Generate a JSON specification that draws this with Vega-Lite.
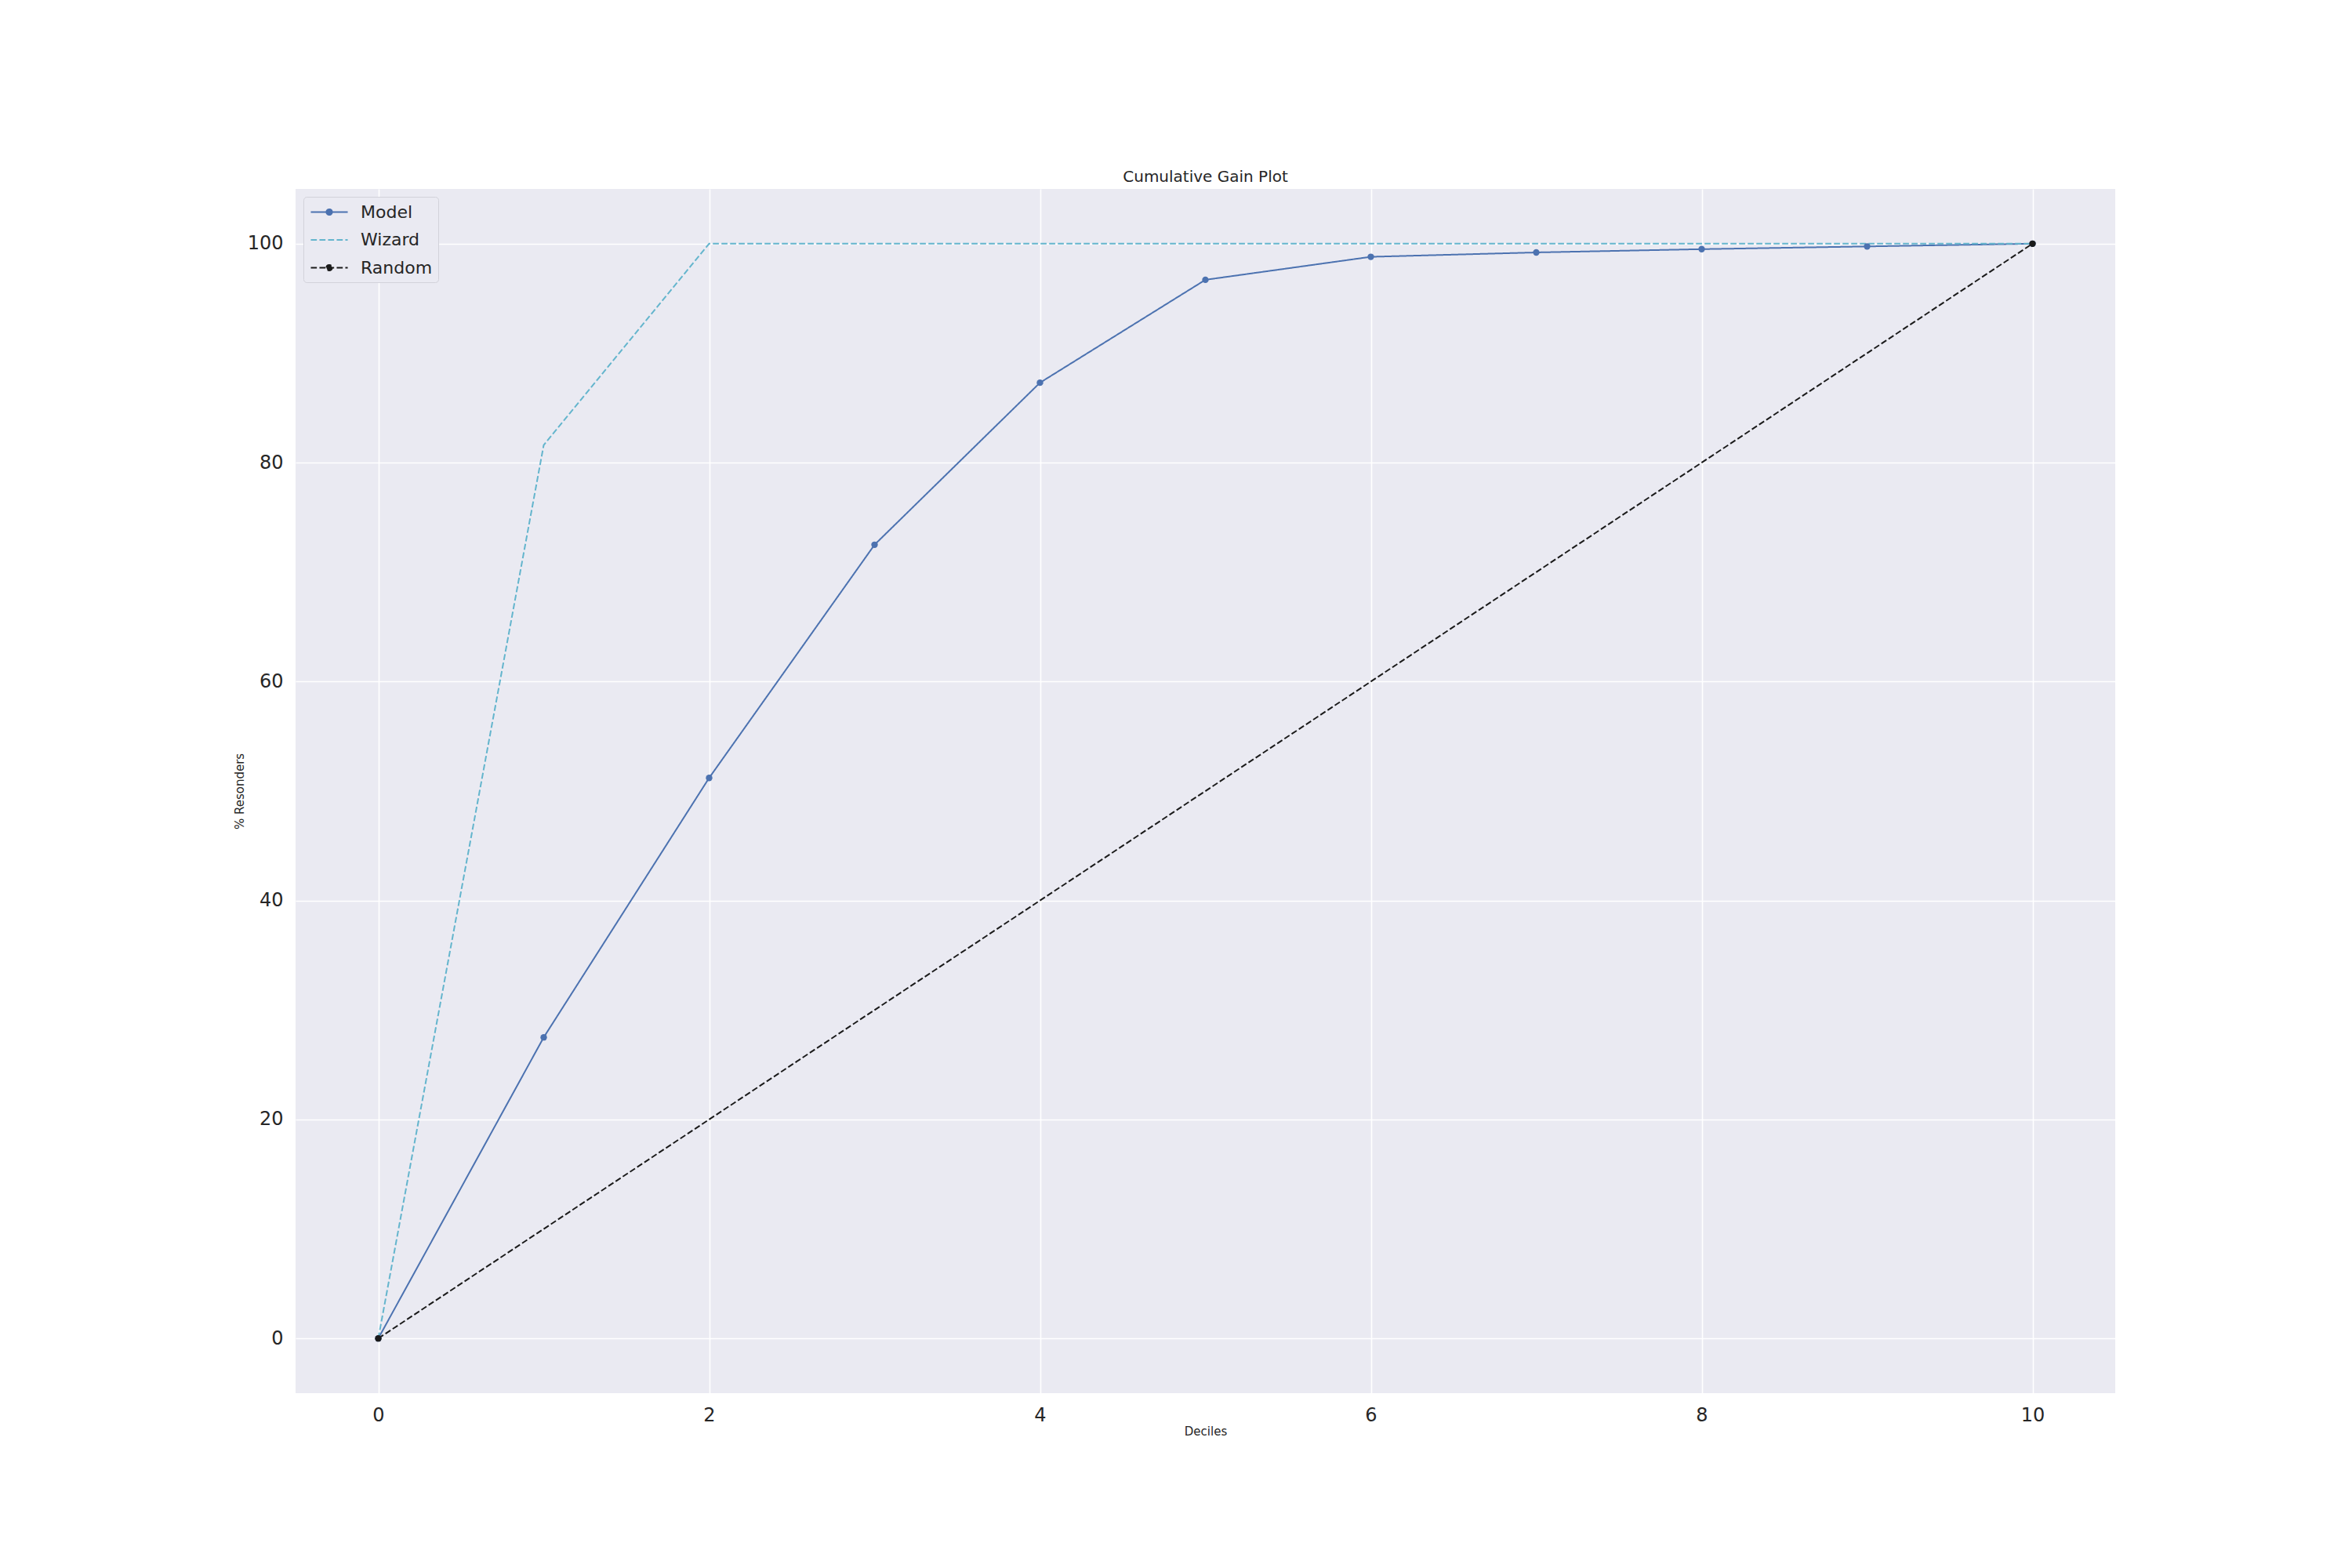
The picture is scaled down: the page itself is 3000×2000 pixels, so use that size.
{
  "$schema": "https://vega.github.io/schema/vega-lite/v6.json",
  "autosize": {"type": "none"},
  "width": 2321,
  "height": 1536,
  "padding": {"left": 377, "top": 241, "right": 302, "bottom": 223},
  "background": "white",
  "title": {
    "text": "Cumulative Gain Plot",
    "font": "DejaVu Sans",
    "fontSize": 20,
    "fontWeight": "normal",
    "color": "#262626",
    "anchor": "middle",
    "baseline": "alphabetic",
    "offset": -11
  },
  "config": {
    "view": {"fill": "#EAEAF2", "stroke": null},
    "axis": {
      "grid": true,
      "gridColor": "#FFFFFF",
      "gridWidth": 1.6,
      "domain": false,
      "ticks": false,
      "labelFont": "DejaVu Sans",
      "labelFontSize": 24,
      "labelColor": "#262626",
      "titleFont": "DejaVu Sans",
      "titleFontSize": 15,
      "titleFontWeight": "normal",
      "titleColor": "#262626"
    }
  },
  "data": {
    "values": [
      {"decile": 0, "pct": 0, "series": "Model"},
      {"decile": 1, "pct": 27.5, "series": "Model"},
      {"decile": 2, "pct": 51.2, "series": "Model"},
      {"decile": 3, "pct": 72.5, "series": "Model"},
      {"decile": 4, "pct": 87.3, "series": "Model"},
      {"decile": 5, "pct": 96.7, "series": "Model"},
      {"decile": 6, "pct": 98.8, "series": "Model"},
      {"decile": 7, "pct": 99.2, "series": "Model"},
      {"decile": 8, "pct": 99.5, "series": "Model"},
      {"decile": 9, "pct": 99.75, "series": "Model"},
      {"decile": 10, "pct": 100, "series": "Model"},
      {"decile": 0, "pct": 0, "series": "Wizard"},
      {"decile": 1, "pct": 81.6, "series": "Wizard"},
      {"decile": 2, "pct": 100, "series": "Wizard"},
      {"decile": 3, "pct": 100, "series": "Wizard"},
      {"decile": 4, "pct": 100, "series": "Wizard"},
      {"decile": 5, "pct": 100, "series": "Wizard"},
      {"decile": 6, "pct": 100, "series": "Wizard"},
      {"decile": 7, "pct": 100, "series": "Wizard"},
      {"decile": 8, "pct": 100, "series": "Wizard"},
      {"decile": 9, "pct": 100, "series": "Wizard"},
      {"decile": 10, "pct": 100, "series": "Wizard"},
      {"decile": 0, "pct": 0, "series": "Random"},
      {"decile": 10, "pct": 100, "series": "Random"}
    ]
  },
  "encoding": {
    "x": {
      "field": "decile",
      "type": "quantitative",
      "title": "Deciles",
      "scale": {"domain": [-0.5, 10.5], "nice": false, "zero": false},
      "axis": {"values": [0, 2, 4, 6, 8, 10], "labelPadding": 16, "titlePadding": 1, "format": "d"}
    },
    "y": {
      "field": "pct",
      "type": "quantitative",
      "title": "% Resonders",
      "scale": {"domain": [-5, 105], "nice": false, "zero": false},
      "axis": {"values": [0, 20, 40, 60, 80, 100], "labelPadding": 16, "titlePadding": 2, "format": "d"}
    }
  },
  "layer": [
    {
      "mark": {"type": "line", "strokeWidth": 2},
      "encoding": {
        "color": {
          "field": "series",
          "type": "nominal",
          "scale": {"domain": ["Model", "Wizard", "Random"], "range": ["#4C72B0", "#64B5CD", "#1A1A1A"]},
          "legend": {
            "title": null,
            "orient": "top-left",
            "offset": 10,
            "padding": 7,
            "rowPadding": 11.5,
            "symbolSize": 484,
            "symbolOffset": 13.5,
            "labelOffset": 27.5,
            "labelFont": "DejaVu Sans",
            "labelFontSize": 22,
            "labelColor": "#262626",
            "fillColor": "#EAEAF2",
            "strokeColor": "#D2D2DA",
            "cornerRadius": 4,
            "encode": {
              "symbols": {
                "update": {
                  "shape": {"signal": "datum.value === 'Wizard' ? 'M-2.14,0L2.14,0' : 'M-2.14,0L2.14,0M0.32,0A0.32,0.32,0,1,1,-0.32,0A0.32,0.32,0,1,1,0.32,0Z'"},
                  "fill": {"signal": "datum.value === 'Model' ? '#4C72B0' : datum.value === 'Wizard' ? 'transparent' : '#1A1A1A'"},
                  "stroke": {"signal": "datum.value === 'Model' ? '#4C72B0' : datum.value === 'Wizard' ? '#64B5CD' : '#1A1A1A'"},
                  "strokeDash": {"signal": "datum.value === 'Model' ? [1, 0] : [7.7, 3.3]"},
                  "strokeWidth": {"value": 2.2},
                  "opacity": {"value": 1}
                }
              }
            }
          }
        },
        "strokeDash": {
          "field": "series",
          "type": "nominal",
          "scale": {"domain": ["Model", "Wizard", "Random"], "range": [[1, 0], [7.7, 3.3], [7.7, 3.3]]},
          "legend": null
        },
        "order": {"field": "decile", "type": "quantitative"}
      }
    },
    {
      "transform": [{"filter": "datum.series !== 'Wizard'"}],
      "mark": {"type": "point", "filled": true, "size": 70, "opacity": 1, "strokeWidth": 0},
      "encoding": {
        "color": {"field": "series", "type": "nominal", "legend": null}
      }
    }
  ]
}
